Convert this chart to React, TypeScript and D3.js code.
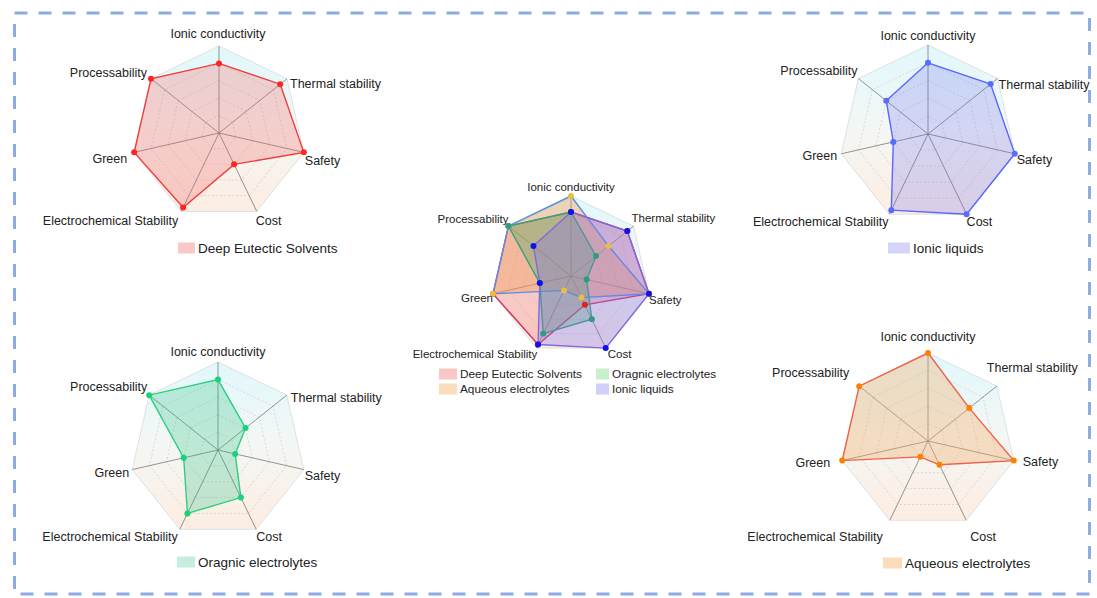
import React from "react";
import * as d3 from "d3";

// ---------- data ----------
const AXES = [
  "Ionic conductivity",
  "Thermal stability",
  "Safety",
  "Cost",
  "Electrochemical Stability",
  "Green",
  "Processability",
];
const DES_VALUES = [4, 4.5, 5, 2, 4.75, 5, 5];
const IL_VALUES = [4, 4.5, 5, 5, 4.75, 2, 3];
const ORG_VALUES = [4, 2, 1, 3, 4, 2, 5];
const AQ_VALUES = [5, 3, 5, 1.5, 1, 5, 5];
const SERIES_NAMES = [
  "Deep Eutectic Solvents",
  "Ionic liquids",
  "Oragnic electrolytes",
  "Aqueous electrolytes",
];
const MAX_VALUE = 5;
const RING_LEVELS = [1, 2, 3, 4, 5];

// ---------- styles ----------
type Style = { fill: string; fillOpacity: number; stroke: string; dot: string; legend: string };
const SOLO: Record<string, Style> = {
  des: { fill: "#f46464", fillOpacity: 0.28, stroke: "#f03c3c", dot: "#ff2525", legend: "#f8c8c8" },
  il: { fill: "#6e6ef0", fillOpacity: 0.25, stroke: "#5a66ff", dot: "#5a6aff", legend: "#d4d4f8" },
  org: { fill: "#2ebf86", fillOpacity: 0.27, stroke: "#2ecf82", dot: "#18d278", legend: "#c6eede" },
  aq: { fill: "#f2b070", fillOpacity: 0.38, stroke: "#f06048", dot: "#ff8000", legend: "#fbdcbc" },
};
const COMBO: Record<string, Style> = {
  des: { fill: "#f46a6a", fillOpacity: 0.3, stroke: "#d63060", dot: "#e32020", legend: "#f8c8c8" },
  aq: { fill: "#f59a55", fillOpacity: 0.4, stroke: "#5a8ee6", dot: "#e6c040", legend: "#fbdcbc" },
  org: { fill: "#3aa860", fillOpacity: 0.32, stroke: "#34a37a", dot: "#2a9f80", legend: "#c8f0cc" },
  il: { fill: "#8474ea", fillOpacity: 0.34, stroke: "#8468dc", dot: "#1010ee", legend: "#d0d0f9" },
};

const FONT = "'Liberation Sans', Arial, Helvetica, sans-serif";

type Series = { values: number[]; style: Style };
type RadarProps = {
  id: string;
  cx: number;
  cy: number;
  r: number;
  fontSize: number;
  offsets: [number, number][];
  series: Series[];
  dotR: number;
};

function Radar({ id, cx, cy, r, fontSize, offsets, series, dotR }: RadarProps) {
  const n = AXES.length;
  const angle = d3.scaleLinear().domain([0, n]).range([0, 2 * Math.PI]);
  const rScale = d3.scaleLinear().domain([0, MAX_VALUE]).range([0, r]);
  const radial = d3
    .lineRadial<number>()
    .angle((_d, i) => angle(i))
    .radius((d) => rScale(d))
    .curve(d3.curveLinearClosed);
  const pt = (i: number, v: number): [number, number] => [
    rScale(v) * Math.sin(angle(i)),
    -rScale(v) * Math.cos(angle(i)),
  ];
  const full = AXES.map(() => MAX_VALUE);
  return (
    <g transform={`translate(${cx},${cy})`}>
      <defs>
        <linearGradient id={`bg-${id}`} x1="0" y1="0" x2="0" y2="1">
          <stop offset="0" stopColor="#e1f8fc" />
          <stop offset="0.5" stopColor="#f4f7f4" />
          <stop offset="1" stopColor="#fdede2" />
        </linearGradient>
      </defs>
      <path d={radial(full) || ""} fill={`url(#bg-${id})`} stroke="#d6dadc" strokeWidth={0.8} />
      {RING_LEVELS.slice(0, -1).map((lv) => (
        <path
          key={lv}
          d={radial(AXES.map(() => lv)) || ""}
          fill="none"
          stroke="#c4c4c4"
          strokeWidth={0.6}
          strokeDasharray="2 2"
        />
      ))}
      {AXES.map((_a, i) => {
        const [x, y] = pt(i, MAX_VALUE);
        return <line key={i} x1={0} y1={0} x2={x} y2={y} stroke="#737373" strokeWidth={0.75} />;
      })}
      {series.map((s, k) => (
        <path
          key={k}
          d={radial(s.values) || ""}
          fill={s.style.fill}
          fillOpacity={s.style.fillOpacity}
          stroke={s.style.stroke}
          strokeWidth={1.4}
        />
      ))}
      {series.map((s, k) =>
        s.values.map((v, i) => {
          const [x, y] = pt(i, v);
          return <circle key={`${k}-${i}`} cx={x} cy={y} r={dotR} fill={s.style.dot} />;
        })
      )}
      {AXES.map((a, i) => {
        const [x, y] = pt(i, MAX_VALUE);
        const s = Math.sin(angle(i));
        const anchor = Math.abs(s) < 0.01 ? "middle" : s > 0 ? "start" : "end";
        return (
          <text
            key={a}
            x={x + offsets[i][0]}
            y={y + offsets[i][1]}
            textAnchor={anchor}
            dominantBaseline="central"
            fontSize={fontSize}
            fontFamily={FONT}
            fill="#222"
          >
            {a}
          </text>
        );
      })}
    </g>
  );
}

function LegendItem({ x, y, w, h, color, label, fontSize }: { x: number; y: number; w: number; h: number; color: string; label: string; fontSize: number }) {
  return (
    <g>
      <rect x={x} y={y - h / 2} width={w} height={h} fill={color} />
      <text x={x + w + 3} y={y} dominantBaseline="central" fontSize={fontSize} fontFamily={FONT} fill="#222">
        {label}
      </text>
    </g>
  );
}

export default function App() {
  return (
    <svg
      width={1097}
      height={598}
      style={{ position: "absolute", left: 0, top: 0, background: "#fff" }}
    >
      <rect
        x={14.5}
        y={13}
        width={1075}
        height={581}
        fill="none"
        stroke="#8eaae2"
        strokeWidth={3}
        strokeDasharray="13 11"
      />
      {/* Top-left: DES */}
      <Radar
        id="tl"
        cx={219}
        cy={133}
        r={87}
        fontSize={12.5}
        dotR={3}
        offsets={[[-1, -12], [3, 5], [1, 9], [-1, 10], [-3, 10], [-7, 7], [-4, -6]]}
        series={[{ values: DES_VALUES, style: SOLO.des }]}
      />
      <LegendItem x={178} y={248} w={17} h={11} color={SOLO.des.legend} label={SERIES_NAMES[0]} fontSize={13.5} />

      {/* Top-right: IL */}
      <Radar
        id="tr"
        cx={928}
        cy={134}
        r={89}
        fontSize={12.5}
        dotR={3}
        offsets={[[0, -9], [1, 6], [2, 6], [0, 8], [-1, 8], [-4, 2], [-1, -8]]}
        series={[{ values: IL_VALUES, style: SOLO.il }]}
      />
      <LegendItem x={888} y={248} w={22} h={11} color={SOLO.il.legend} label={SERIES_NAMES[1]} fontSize={13.5} />

      {/* Bottom-left: Organic */}
      <Radar
        id="bl"
        cx={218}
        cy={450}
        r={88}
        fontSize={12.5}
        dotR={3}
        offsets={[[0, -10], [4, 3], [1, 6], [0, 8], [-2, 8], [-3, 3], [-2, -8]]}
        series={[{ values: ORG_VALUES, style: SOLO.org }]}
      />
      <LegendItem x={177} y={562} w={18} h={11} color={SOLO.org.legend} label={SERIES_NAMES[2]} fontSize={13.5} />

      {/* Bottom-right: Aqueous */}
      <Radar
        id="br"
        cx={928}
        cy={441}
        r={88}
        fontSize={12.5}
        dotR={3}
        offsets={[[0, -16], [-10, -18], [9, 1], [4, 17], [-7, 17], [-12, 2], [-10, -13]]}
        series={[{ values: AQ_VALUES, style: SOLO.aq }]}
      />
      <LegendItem x={883} y={563} w={19} h={11} color={SOLO.aq.legend} label={SERIES_NAMES[3]} fontSize={13.5} />

      {/* Center: combined */}
      <Radar
        id="c"
        cx={571}
        cy={276}
        r={80}
        fontSize={11.5}
        dotR={3}
        offsets={[[0, -9], [-2, -8], [0, 6], [2, 6], [1, 6], [0, 4], [0, -7]]}
        series={[
          { values: DES_VALUES, style: COMBO.des },
          { values: AQ_VALUES, style: COMBO.aq },
          { values: ORG_VALUES, style: COMBO.org },
          { values: IL_VALUES, style: COMBO.il },
        ]}
      />
      <LegendItem x={439} y={374} w={18} h={11} color={COMBO.des.legend} label={SERIES_NAMES[0]} fontSize={11.8} />
      <LegendItem x={439} y={389} w={18} h={11} color={COMBO.aq.legend} label={SERIES_NAMES[3]} fontSize={11.8} />
      <LegendItem x={596} y={374} w={13} h={11} color={COMBO.org.legend} label={SERIES_NAMES[2]} fontSize={11.8} />
      <LegendItem x={596} y={389} w={13} h={11} color={COMBO.il.legend} label={SERIES_NAMES[1]} fontSize={11.8} />
    </svg>
  );
}
